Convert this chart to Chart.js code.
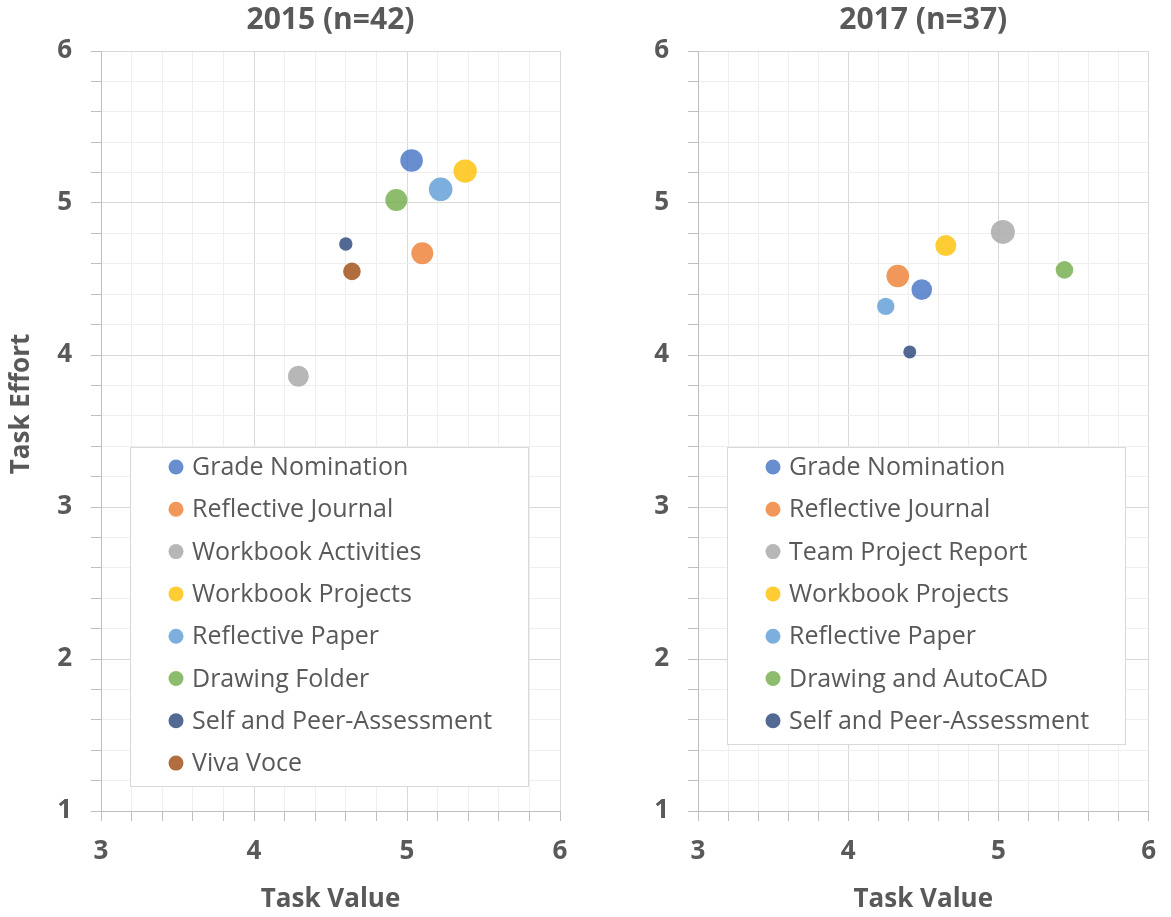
<!DOCTYPE html>
<html>
<head>
<meta charset="utf-8">
<script src="https://cdn.jsdelivr.net/npm/chart.js@4.4.0/dist/chart.umd.min.js"></script>
<style>
  body { margin: 0; background: #fff; }
  #wrap { position: relative; width: 1171px; height: 917px; }
  canvas { position: absolute; top: 0; }
</style>
</head>
<body>
<div id="wrap">
  <canvas id="c2015" width="585" height="917" style="left:0"></canvas>
  <canvas id="c2017" width="586" height="917" style="left:585px"></canvas>
</div>
<script>
// 2015 survey
const names2015 = ["Grade Nomination", "Reflective Journal", "Workbook Activities", "Workbook Projects",
  "Reflective Paper", "Drawing Folder", "Self and Peer-Assessment", "Viva Voce"];
const value2015 = [5.03, 5.10, 4.29, 5.38, 5.22, 4.93, 4.60, 4.64];
const effort2015 = [5.28, 4.67, 3.86, 5.21, 5.09, 5.02, 4.73, 4.55];
const size2015 = [11.3, 11, 10.5, 11.7, 11.8, 11, 6.7, 8.8];

// 2017 survey
const names2017 = ["Grade Nomination", "Reflective Journal", "Team Project Report", "Workbook Projects",
  "Reflective Paper", "Drawing and AutoCAD", "Self and Peer-Assessment"];
const value2017 = [4.49, 4.33, 5.03, 4.65, 4.25, 5.44, 4.41];
const effort2017 = [4.43, 4.52, 4.81, 4.72, 4.32, 4.56, 4.02];
const size2017 = [10.3, 11.3, 12, 10.5, 8.7, 8.8, 6.5];

const officeColors = ["#4472C4", "#ED7D31", "#A5A5A5", "#FFC000", "#5B9BD5", "#70AD47", "#264478", "#9E480E"];

const FONT = "'Open Sans', sans-serif";
const TEXT = "#595959";

const isWhole = v => Math.abs(v - Math.round(v)) < 1e-6;

// legend drawn as a framed box inside the plot area
const boxLegend = {
  id: 'boxLegend',
  afterDatasetsDraw(chart, args, opts) {
    const ctx = chart.ctx;
    const area = chart.chartArea;
    const sets = chart.data.datasets;
    ctx.save();
    ctx.font = opts.fontSize + "px " + FONT;
    const textW = Math.max(...sets.map(d => ctx.measureText(d.label).width));
    const x0 = Math.round(area.left + opts.left);
    const y0 = opts.top;
    const w = Math.round(opts.textOffset + textW + opts.padRight);
    const h = Math.round(opts.padTop + (sets.length - 1) * opts.rowGap + opts.padBottom);
    ctx.fillStyle = "#fff";
    ctx.fillRect(x0, y0, w, h);
    ctx.strokeStyle = "#d9d9d9";
    ctx.lineWidth = 1;
    ctx.strokeRect(x0 + 0.5, y0 + 0.5, w, h);
    ctx.textBaseline = "middle";
    ctx.textAlign = "left";
    sets.forEach((d, i) => {
      const y = y0 + opts.padTop + i * opts.rowGap;
      ctx.beginPath();
      ctx.arc(x0 + opts.markerOffset, y, 7.5, 0, Math.PI * 2);
      ctx.fillStyle = d.backgroundColor;
      ctx.fill();
      ctx.fillStyle = TEXT;
      ctx.fillText(d.label, x0 + opts.textOffset, y + 1);
    });
    ctx.restore();
  }
};

function makeSets(names, xs, ys, rs) {
  return names.map((n, i) => ({
    label: n,
    data: [{ x: xs[i], y: ys[i], r: rs[i] }],
    backgroundColor: officeColors[i] + "CC",
    borderWidth: 0,
    hoverBorderWidth: 0
  }));
}

function makeAxis(min, max, titleText, horizontal, fitSize) {
  return {
    type: 'linear',
    min: min,
    max: max,
    afterFit(scale) {
      if (horizontal) scale.height = fitSize; else scale.width = fitSize;
    },
    ticks: {
      stepSize: 0.2,
      maxTicksLimit: 100,
      autoSkip: false,
      maxRotation: 0,
      padding: horizontal ? 15 : 19,
      color: TEXT,
      font: { family: FONT, size: 26, weight: 'bold' },
      callback: v => isWhole(v) ? String(Math.round(v)) : ''
    },
    grid: {
      color: c => isWhole(c.tick.value) ? '#d9d9d9' : '#efefef',
      tickColor: '#bfbfbf',
      tickLength: 10,
      lineWidth: 1
    },
    border: { color: '#bfbfbf' },
    title: {
      display: !!titleText,
      text: titleText,
      color: TEXT,
      font: { family: FONT, size: 26, weight: 'bold' },
      padding: horizontal ? { top: 0, bottom: 2 } : { top: 6, bottom: 0 }
    }
  };
}

function makeChart(id, title, sets, yTitle, yWidth, padRight) {
  return new Chart(document.getElementById(id), {
    type: 'bubble',
    data: { datasets: sets },
    plugins: [boxLegend],
    options: {
      responsive: false,
      animation: false,
      layout: { padding: { left: 0, right: padRight, top: 0, bottom: 0 } },
      scales: {
        x: makeAxis(3, 6, "Task Value", true, 106),
        y: makeAxis(1, 6, yTitle, false, yWidth)
      },
      plugins: {
        legend: { display: false },
        tooltip: { enabled: false },
        title: {
          display: true,
          text: title,
          fullSize: false,
          color: TEXT,
          font: { family: FONT, size: 30, weight: 'bold' },
          padding: { top: 2, bottom: 13 }
        },
        boxLegend: {
          left: 29, top: 447, fontSize: 25,
          markerOffset: 46, textOffset: 62, padRight: 36,
          padTop: 20, rowGap: 42.3, padBottom: 23
        }
      }
    }
  });
}

// the y title sits a little above the middle of the axis in the original
makeChart("c2015", "2015 (n=42)", makeSets(names2015, value2015, effort2015, size2015),
  "Task Effort".padStart(19, " "), 101, 25);
makeChart("c2017", "2017 (n=37)", makeSets(names2017, value2017, effort2017, size2017), "", 113, 13);
</script>
</body>
</html>
